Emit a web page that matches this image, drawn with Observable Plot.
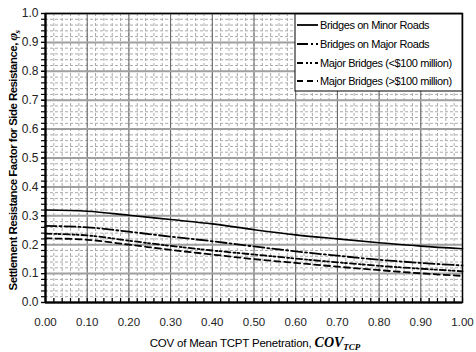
<!DOCTYPE html>
<html>
<head>
<meta charset="utf-8">
<script src="https://cdn.jsdelivr.net/npm/d3@7"></script>
<script src="https://cdn.jsdelivr.net/npm/@observablehq/plot@0.6"></script>
<style>
  html, body { margin: 0; padding: 0; background: #fff; }
  #chart svg { display: block; font-family: "Liberation Sans", Arial, sans-serif; }
</style>
</head>
<body>
<div id="chart"></div>
<script>
// ---- data ----
const cov = [0.0, 0.1, 0.2, 0.3, 0.4, 0.5, 0.6, 0.7, 0.8, 0.9, 1.0];
const minorRoads = [0.320, 0.316, 0.302, 0.287, 0.272, 0.252, 0.234, 0.220, 0.207, 0.195, 0.186];
const majorRoads = [0.265, 0.260, 0.245, 0.228, 0.212, 0.194, 0.177, 0.162, 0.148, 0.137, 0.128];
const under100 = [0.238, 0.232, 0.214, 0.196, 0.180, 0.166, 0.152, 0.139, 0.127, 0.117, 0.108];
const over100 = [0.222, 0.217, 0.200, 0.182, 0.166, 0.150, 0.137, 0.124, 0.112, 0.101, 0.092];

const seriesNames = [
  "Bridges on Minor Roads",
  "Bridges on Major Roads",
  "Major Bridges (<$100 million)",
  "Major Bridges (>$100 million)"
];
const seriesValues = [minorRoads, majorRoads, under100, over100];
const seriesDash = [null, "11,3,2,3", "6,3,2,2,2,3", "6,4"];

const xMajor = [0, 0.1, 0.2, 0.3, 0.4, 0.5, 0.6, 0.7, 0.8, 0.9, 1.0];
const yMajor = [0, 0.1, 0.2, 0.3, 0.4, 0.5, 0.6, 0.7, 0.8, 0.9, 1.0];
const minorTicks = d3.range(0, 51).map(i => +(i * 0.02).toFixed(2));

// table built from the arrays
const rows = seriesNames.flatMap((name, si) =>
  cov.map((c, i) => ({series: name, si, cov: c, phi: seriesValues[si][i]})));

const W = 476, H = 352;
const mL = 45, mR = 14, mT = 13, mB = 50;

const lineMarks = seriesNames.map((name, si) =>
  Plot.line(rows.filter(d => d.si === si), {
    x: "cov", y: "phi", curve: "monotone-x",
    stroke: "black", strokeWidth: si === 0 ? 1.6 : 1.8,
    strokeDasharray: seriesDash[si] || undefined
  }));

const plot = Plot.plot({
  width: W, height: H,
  marginLeft: mL, marginRight: mR, marginTop: mT, marginBottom: mB,
  style: {fontFamily: "Liberation Sans, Arial, sans-serif", fontSize: "11px", color: "#000", background: "#fff"},
  x: {domain: [0, 1], label: null},
  y: {domain: [0, 1], label: null},
  marks: [
    Plot.gridX(minorTicks, {stroke: "#ababab", strokeOpacity: 1, strokeDasharray: "3,2", strokeWidth: 1}),
    Plot.gridY(minorTicks, {stroke: "#ababab", strokeOpacity: 1, strokeDasharray: "3,2", strokeWidth: 1}),
    Plot.gridX(xMajor, {stroke: "#606060", strokeOpacity: 1, strokeWidth: 1}),
    Plot.gridY(yMajor, {stroke: "#a0a0a0", strokeOpacity: 1, strokeWidth: 2}),
    Plot.axisY(minorTicks, {tickSize: 4, tickFormat: () => "", label: null, strokeWidth: 1.2}),
    Plot.axisY(yMajor, {tickSize: 4, tickPadding: 3, tickFormat: d3.format(".1f"), label: null, fontSize: 12, fill: "#222", strokeWidth: 1.2}),
    Plot.axisX(minorTicks, {tickSize: -4, tickFormat: () => "", label: null, strokeWidth: 1.2}),
    Plot.axisX(xMajor, {tickSize: 0, tickPadding: 15, tickFormat: d3.format(".2f"), label: null, fontSize: 11.5, fill: "#222"}),
    ...lineMarks,
    Plot.frame({stroke: "black", strokeWidth: 1.5}),
    Plot.ruleX([0], {stroke: "black", strokeWidth: 2.2}),
    Plot.ruleY([0], {stroke: "black", strokeWidth: 2.2})
  ]
});

document.getElementById("chart").appendChild(plot);

// ---- legend inside the plot (top-right) ----
const svg = d3.select(plot);
const lg = svg.append("g").attr("class", "legend").attr("text-anchor", "start");
const lx = 295, ly = 14, lw = 167, lh = 77;
lg.append("rect").attr("x", lx).attr("y", ly).attr("width", lw).attr("height", lh)
  .style("fill", "#ffffff").style("stroke", "#000000").style("stroke-width", "1px");
const rowY = [25, 44, 63, 81];
seriesNames.forEach((name, si) => {
  lg.append("line").attr("x1", lx + 2).attr("x2", lx + 23)
    .attr("y1", rowY[si]).attr("y2", rowY[si])
    .attr("stroke", "black").attr("stroke-width", 1.8)
    .attr("stroke-dasharray", seriesDash[si] || null);
  lg.append("text").attr("x", lx + 25).attr("y", rowY[si]).attr("dy", "0.36em")
    .attr("text-anchor", "start")
    .attr("font-size", 11).attr("letter-spacing", "-0.4").attr("fill", "black")
    .text(name);
});

// ---- axis titles ----
const ly0 = mT + (H - mT - mB) / 2 + 3;
const yt = svg.append("text")
  .attr("transform", `translate(13,${ly0}) rotate(-90)`)
  .attr("text-anchor", "middle").attr("dy", "0.35em")
  .attr("font-size", 11.5).attr("font-weight", "bold").attr("letter-spacing", "-0.55")
  .attr("fill", "black");
yt.append("tspan").text("Settlement Resistance Factor for Side Resistance, ");
yt.append("tspan").attr("font-family", "Liberation Serif, serif").attr("font-style", "italic").attr("font-size", 13).text("φ");
yt.append("tspan").attr("font-family", "Liberation Serif, serif").attr("font-style", "italic").attr("font-size", 9).attr("dy", "0.3em").text("s");

const xt = svg.append("text")
  .attr("x", 255).attr("y", 347)
  .attr("text-anchor", "middle")
  .attr("font-size", 11.5).attr("letter-spacing", "-0.2").attr("fill", "black");
xt.append("tspan").text("COV of Mean TCPT Penetration, ");
xt.append("tspan").attr("font-family", "Liberation Serif, serif").attr("font-style", "italic").attr("font-weight", "bold").attr("font-size", 14).attr("letter-spacing", "0").text("COV");
xt.append("tspan").attr("font-family", "Liberation Serif, serif").attr("font-style", "italic").attr("font-weight", "bold").attr("font-size", 9).attr("letter-spacing", "0").attr("dy", "3").text("TCP");
</script>
</body>
</html>
